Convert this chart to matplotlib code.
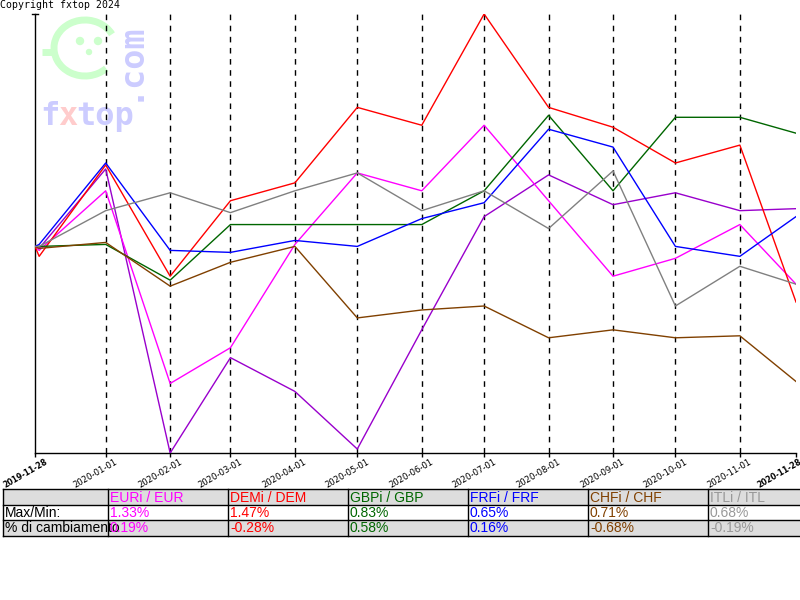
import matplotlib
matplotlib.use('Agg')
import matplotlib.pyplot as plt
import matplotlib.transforms as mtransforms
from matplotlib.patches import Rectangle, Arc, Circle
import pandas as pd

# ---------------- data (percent change vs 2019-11-28) ----------------
dates = ['2019-11-28', '2019-11-30', '2020-01-01', '2020-02-01', '2020-03-01',
         '2020-04-01', '2020-05-01', '2020-06-01', '2020-07-01', '2020-08-01',
         '2020-09-01', '2020-10-01', '2020-11-01', '2020-11-28']

eur = [0.00, -0.02, 0.28, -0.69, -0.51, 0.01, 0.37, 0.28, 0.61, 0.23, -0.15, -0.06, 0.11, -0.19]
dem = [0.00, -0.05, 0.41, -0.15, 0.23, 0.32, 0.70, 0.61, 1.17, 0.70, 0.60, 0.42, 0.51, -0.28]
gbp = [0.00, 0.00, 0.01, -0.17, 0.11, 0.11, 0.11, 0.11, 0.28, 0.66, 0.28, 0.65, 0.65, 0.57]
frf = [0.00, 0.01, 0.42, -0.02, -0.03, 0.03, 0.00, 0.14, 0.22, 0.59, 0.50, 0.00, -0.05, 0.15]
chf = [0.00, -0.01, 0.02, -0.20, -0.08, 0.00, -0.36, -0.32, -0.30, -0.46, -0.42, -0.46, -0.45, -0.68]
itl = [0.00, 0.00, 0.18, 0.27, 0.17, 0.28, 0.37, 0.18, 0.28, 0.09, 0.38, -0.30, -0.10, -0.19]
other = [0.00, -0.01, 0.39, -1.04, -0.56, -0.73, -1.02, -0.42, 0.15, 0.36, 0.21, 0.27, 0.18, 0.19]

tick_dates = ['2019-11-28', '2020-01-01', '2020-02-01', '2020-03-01', '2020-04-01',
              '2020-05-01', '2020-06-01', '2020-07-01', '2020-08-01', '2020-09-01',
              '2020-10-01', '2020-11-01', '2020-11-28']

pair_labels = ['EURi / EUR', 'DEMi / DEM', 'GBPi / GBP', 'FRFi / FRF', 'CHFi / CHF', 'ITLi / ITL']
maxmin = ['1.33%', '1.47%', '0.83%', '0.65%', '0.71%', '0.68%']
change = ['0.19%', '-0.28%', '0.58%', '0.16%', '-0.68%', '-0.19%']
row_labels = ['Max/Min:', '% di cambiamento']

colors = ['#ff00ff', '#ff0000', '#006600', '#0000ff', '#804000', '#808080']
text_colors = ['#ff00ff', '#ff0000', '#006600', '#0000ff', '#804000', '#999999']
other_color = '#9900cc'

# ---------------- figure ----------------
fig = plt.figure(figsize=(8, 6), dpi=100)
fig.patch.set_facecolor('white')

# background canvas in pixel coordinates
bg = fig.add_axes([0, 0, 1, 1], zorder=0)
bg.set_xlim(0, 800)
bg.set_ylim(600, 0)
bg.axis('off')

# watermark logo
green = '#ccffcc'
lblue = '#ccccff'
bg.add_patch(Arc((85, 48), 62, 56, theta1=44, theta2=333, color=green, lw=5))
bg.plot([42, 53], [52, 52], color=green, lw=5, solid_capstyle='butt')
bg.add_patch(Circle((80, 41), 3.5, color=green))
bg.add_patch(Circle((98, 41), 3.5, color=green))
bg.add_patch(Circle((89, 52), 2.5, color=green))
bg.text(40, 125, 'f', color=lblue, fontsize=23, fontweight='bold',
        family='DejaVu Sans Mono', va='baseline', ha='left')
bg.text(58, 125, 'x', color='#ffcccc', fontsize=23, fontweight='bold',
        family='DejaVu Sans Mono', va='baseline', ha='left')
bg.text(76, 125, 'top', color=lblue, fontsize=23, fontweight='bold',
        family='DejaVu Sans Mono', va='baseline', ha='left')
bg.text(128, 101, '.com', color=lblue, fontsize=24, fontweight='bold',
        family='DejaVu Sans Mono', rotation=90, va='bottom', ha='center')

bg.text(0, 0, 'Copyright fxtop 2024', family='DejaVu Sans Mono', fontsize=7.1,
        va='top', ha='left', color='black')

# table
col_edges = [3, 108, 228, 348, 468, 588, 708, 802]
row_edges = [489, 505, 520, 536]
row_bg = ['#dddddd', 'white', '#dddddd']
for r in range(3):
    bg.add_patch(Rectangle((col_edges[0], row_edges[r]), col_edges[-1] - col_edges[0],
                           row_edges[r + 1] - row_edges[r], facecolor=row_bg[r],
                           edgecolor='none'))
for yv in row_edges:
    bg.plot([col_edges[0], col_edges[-1]], [yv, yv], color='black', lw=1)
for xv in col_edges[:-1]:
    bg.plot([xv, xv], [row_edges[0], row_edges[-1]], color='black', lw=1)

tfont = dict(family='Liberation Sans', fontsize=10, va='center', ha='left')
for r, lab in enumerate(row_labels):
    yc = (row_edges[r + 1] + row_edges[r + 2]) / 2 + 0.5
    bg.text(col_edges[0] + 2, yc, lab, color='black', **tfont)
for i in range(6):
    x0 = col_edges[i + 1] + 2
    bg.text(x0, (row_edges[0] + row_edges[1]) / 2 + 0.5, pair_labels[i], color=text_colors[i], **tfont)
    bg.text(x0, (row_edges[1] + row_edges[2]) / 2 + 0.5, maxmin[i], color=text_colors[i], **tfont)
    bg.text(x0, (row_edges[2] + row_edges[3]) / 2 + 0.5, change[i], color=text_colors[i], **tfont)

# main chart
ax = fig.add_axes([35 / 800, 147 / 600, 761 / 800, 439 / 600], zorder=1)
ax.patch.set_alpha(0)
x = pd.to_datetime(dates)
xt = pd.to_datetime(tick_dates)

for xv in xt[1:-1]:
    ax.axvline(xv, color='black', lw=1, linestyle=(0, (4, 4)), zorder=1)

series = [eur, dem, gbp, frf, chf, itl]
ax.plot(x, other, color=other_color, lw=1, zorder=3)
for s, c in zip(series, colors):
    ax.plot(x, s, color=c, lw=1, zorder=3)

ax.set_xlim(xt[0], xt[-1])
ax.set_ylim(-1.04, 1.17)
for sp in ['top', 'right']:
    ax.spines[sp].set_visible(False)
for sp in ['left', 'bottom']:
    ax.spines[sp].set_color('black')
    ax.spines[sp].set_linewidth(1)
ax.set_yticks([])
ax.plot([-0.004, 0.004], [1, 1], transform=ax.transAxes, color='black', lw=1, clip_on=False)

ax.set_xticks(xt)
ax.set_xticklabels([])
ax.tick_params(axis='x', length=3, width=1, color='black')

n = len(tick_dates)
for i, (d, lab) in enumerate(zip(xt, tick_dates)):
    bold = (i == 0 or i == n - 1)
    dx = 3 if i == n - 1 else (10 if i == 0 else 9)
    offset = mtransforms.ScaledTranslation(dx / 100, -4 / 100, fig.dpi_scale_trans)
    trans = mtransforms.blended_transform_factory(ax.transData, ax.transAxes) + offset
    ax.text(d, 0, lab, transform=trans, rotation=30, rotation_mode='anchor',
            ha='right', va='top', fontsize=5.6 if bold else 6.1,
            fontweight='bold' if bold else 'normal', color='black', clip_on=False)

fig.savefig('out.png', dpi=100, facecolor='white')
